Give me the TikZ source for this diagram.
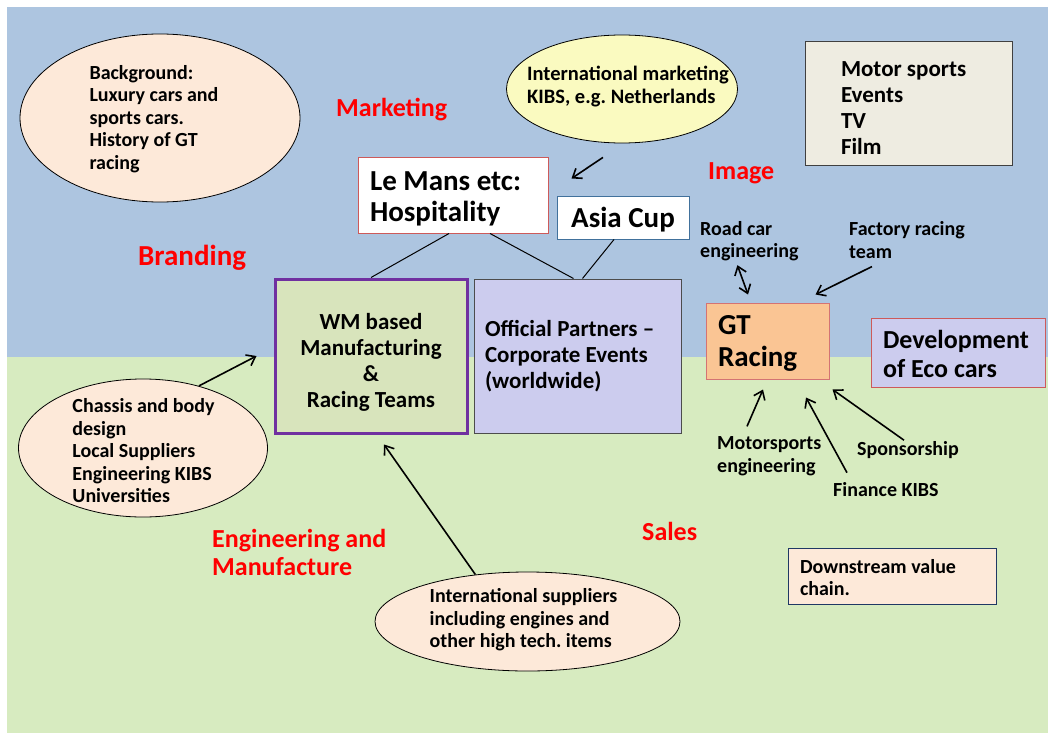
\documentclass[tikz,border=0pt]{standalone}
\usepackage{fontspec}
\setmainfont{Carlito}
\frenchspacing
\usetikzlibrary{shapes.geometric,arrows.meta}

\definecolor{skyblue}{RGB}{173,197,224}
\definecolor{leafgreen}{RGB}{215,235,192}
\definecolor{peach}{RGB}{253,233,217}
\definecolor{paleyellow}{RGB}{250,250,192}
\definecolor{tan}{RGB}{238,236,225}
\definecolor{olive}{RGB}{216,228,188}
\definecolor{lavender}{RGB}{204,204,238}
\definecolor{apricot}{RGB}{250,197,148}
\definecolor{brickred}{RGB}{205,90,90}
\definecolor{steelblue}{RGB}{65,113,156}
\definecolor{royalpurple}{RGB}{112,48,160}
\definecolor{navy}{RGB}{31,56,100}

\begin{document}
\begin{tikzpicture}[x=1pt,y=-1pt]
    \tikzset{
      fsmall/.style={font=\bfseries\fontsize{20}{22.5}\selectfont},
      fmid/.style={font=\bfseries\fontsize{23}{26}\selectfont},
      fbig/.style={font=\bfseries\fontsize{29}{31}\selectfont},
      heading/.style={anchor=west, inner sep=0pt, text=red, font=\bfseries\fontsize{26}{28}\selectfont, align=left},
      tag/.style={fsmall, anchor=west, inner sep=0pt, align=left},
      bubble/.style={ellipse, draw, inner sep=0pt, line width=0.8pt},
      panel/.style={rectangle, draw, inner ysep=0pt, inner xsep=12pt, align=flush left, line width=1pt},
      link/.style={line width=1pt},
      arr/.style={-{Straight Barb[length=8pt,width=12pt]}, line width=1.6pt},
      biarr/.style={{Straight Barb[length=8pt,width=12pt]}-{Straight Barb[length=8pt,width=12pt]}, line width=1.6pt}
    }

    \useasboundingbox (0,0) rectangle (1048,733);
    \fill[skyblue] (7,7) rectangle (1048,357);
    \fill[leafgreen] (7,357) rectangle (1048,733);

    % ellipses
    \node[bubble, fill=peach, minimum width=280pt, minimum height=168pt] (bg) at (160,118) {};
    \node[fsmall, align=left, inner sep=0pt] (bgtext) at (154,119) {Background:\\Luxury cars and\\sports cars.\\History of GT\\racing};

    \node[bubble, fill=paleyellow, minimum width=231pt, minimum height=108pt] (intmkt) at (622,89) {};
    \node[align=left, inner sep=0pt, font=\bfseries\fontsize{20.5}{23}\selectfont] (intmkttext) at (628,87) {International marketing\\KIBS, e.g. Netherlands};

    \node[bubble, fill=peach, minimum width=249pt, minimum height=138pt] (chassis) at (143,448) {};
    \node[fsmall, align=left, inner sep=0pt] (chassistext) at (143.5,451) {Chassis and body\\design\\Local Suppliers\\Engineering KIBS\\Universities};

    \node[bubble, fill=peach, minimum width=305pt, minimum height=99pt] (suppliers) at (527.5,621.5) {};
    \node[fsmall, align=left, inner sep=0pt] (supplierstext) at (523.5,620) {International suppliers\\including engines and\\other high tech. items};

    % boxes
    \node[panel, fbig, fill=white, draw=brickred, text width=166pt, minimum height=76pt, text height=26.7pt] (lemans) at (453,195) {Le Mans etc:\\Hospitality};
    \node[panel, fbig, fill=white, draw=steelblue, align=flush center, minimum width=132pt, minimum height=43pt, text depth=0pt] (asia) at (623,217.5) {Asia Cup};
    \node[panel, fmid, fill=olive, draw=royalpurple, line width=3pt, align=flush center, text width=168pt, minimum height=154pt, text height=28pt] (wm) at (371,356) {WM based\\Manufacturing\\\&\\Racing Teams};
    \node[panel, fmid, fill=lavender, draw=black!70, inner xsep=11pt, text width=185pt, minimum height=154pt] (official) at (577.5,356) {Official Partners --\\Corporate Events\\(worldwide)};
    \node[panel, fill=apricot, draw=brickred!85, text width=99pt, minimum height=76pt, text height=24.7pt, font=\bfseries\fontsize{29}{32}\selectfont] (gt) at (767.5,341) {GT\\Racing};
    \node[panel, fill=lavender, draw=brickred, text width=150pt, minimum height=69pt, text height=22pt, font=\bfseries\fontsize{26}{29}\selectfont] (eco) at (958,352.5) {Development\\of Eco cars};
    \node[panel, fmid, fill=tan, draw=black!75, inner xsep=36pt, text width=135pt, minimum height=123pt, text height=24.8pt] (media) at (908.5,103.5) {Motor sports\\Events\\TV\\Film};
    \node[panel, fill=peach, draw=navy, text width=184pt, minimum height=56pt, text height=18pt, font=\bfseries\fontsize{20}{22}\selectfont] (downstream) at (892,576) {Downstream value\\chain.};

    % headings
    \node[heading] (marketing) at (336,110) {Marketing};
    \node[heading, font=\bfseries\fontsize{29}{30}\selectfont] (branding) at (138,258) {Branding};
    \node[heading] (image) at (708,173) {Image};
    \node[heading] (engineering) at (212,552) {Engineering and\\Manufacture};
    \node[heading] (sales) at (642,531) {Sales};

    % labels round GT Racing
    \node[tag] (roadcar) at (700,241) {Road car\\engineering};
    \node[tag] (factory) at (849,240) {Factory racing\\team};
    \node[tag] (motorsports) at (717,456) {Motorsports\\engineering};
    \node[tag] (finance) at (833,490) {Finance KIBS};
    \node[tag] (sponsorship) at (857,450) {Sponsorship};

    \draw[link] ([shift={(-4,0)}]lemans.south) -- (wm.north);
    \draw[link] ([shift={(37,0)}]lemans.south) -- ([shift={(-4,0)}]official.north);
    \draw[link] ([shift={(-9,0)}]asia.south) -- ([shift={(5,0)}]official.north);

    \draw[arr] ([shift={(-19,14)}]intmkt.south) -- ([shift={(15,-17)}]asia.north west);
    \draw[arr] (chassis.48) -- ([shift={(-17,0)}]wm.west);
    \draw[arr] (suppliers.138) -- ([shift={(13,10)}]wm.south);

    \draw[biarr] ([shift={(-12,4)}]roadcar.south) -- ([shift={(-19.5,-8)}]gt.north);
    \draw[arr] ([shift={(23,8)}]factory.south west) -- ([shift={(-14,-8)}]gt.north east);
    \draw[arr] ([shift={(30,-10)}]motorsports.north west) -- ([shift={(-4.5,10)}]gt.south);
    \draw[arr] ([shift={(14,-10)}]finance.north west) -- ([shift={(38.5,18)}]gt.south);
    \draw[arr] ([shift={(47,-1)}]sponsorship.north west) -- ([shift={(3,10)}]gt.south east);
  \end{tikzpicture}
\end{document}
